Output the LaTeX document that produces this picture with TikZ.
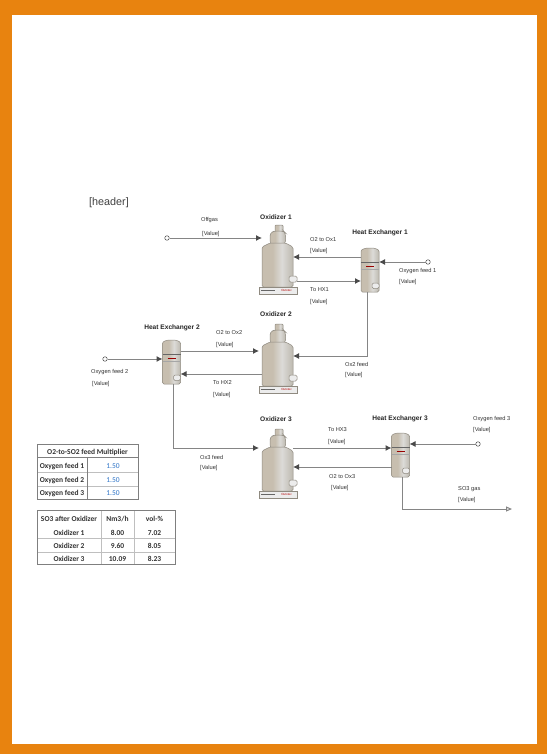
\documentclass[tikz,border=0pt]{standalone}
\usepackage{fontspec}
\setmainfont{Liberation Sans}
\newfontfamily\tablefont{Carlito}
\usetikzlibrary{arrows.meta, calc}
\definecolor{frameorange}{HTML}{E8830F}
\definecolor{vesselside}{HTML}{C7BEAF}
\definecolor{vessellight}{HTML}{DCDBD8}
\definecolor{vesselright}{HTML}{BDB9AF}
\definecolor{vesseledge}{HTML}{8F8A80}
\definecolor{linegray}{HTML}{858585}
\definecolor{tipgray}{HTML}{4A4A4A}
\definecolor{gridgray}{HTML}{BFBFBF}
\definecolor{tableedge}{HTML}{7F7F7F}
\definecolor{cellblue}{HTML}{2F75C8}
\pgfdeclarehorizontalshading{vesselshade}{100bp}{
  color(0bp)=(vesselside); color(25bp)=(vesselside); color(42bp)=(vesselside);
  color(57bp)=(vessellight); color(75bp)=(vesselright); color(100bp)=(vesselright)}
\tikzset{
  vessel/.style={draw=vesseledge, line width=0.5pt, shading=vesselshade},
  plate/.style={draw=vesseledge, line width=0.5pt, fill=gray!15},
  stream/.style={draw=linegray, line width=1pt, -{Latex[length=6pt,width=6pt,color=tipgray]}},
  feedend/.style={circle, draw=tipgray, fill=white, line width=0.5pt, inner sep=0pt, minimum size=4.5pt},
  lbl/.style={font=\fontsize{5.7}{6.5}\selectfont, text=black!80, anchor=west, inner sep=0pt},
  unit/.style={font=\bfseries\fontsize{6.6}{7.5}\selectfont, text=black!85, inner sep=0pt},
  cell/.style={font=\tablefont\bfseries\fontsize{7.5}{9}\selectfont, text=black!80, inner sep=0pt},
  oxidizer/.pic={
    % cap, neck, body
    \draw[vessel, rounded corners=1pt] (-2.5,-11) rectangle (5.5,-4);
    \draw[vessel, rounded corners=3pt] (-7.5,8) -- (-7.5,-3) -- (-3,-5) -- (6,-5) -- (8,-3) -- (8,8) -- cycle;
    \draw[vessel, rounded corners=1.5pt] (-15.5,51) -- (-15.5,11) -- (-7.5,7) -- (8,7) -- (15.5,11) -- (15.5,51) -- cycle;
    \draw[plate] (-18.5,51) rectangle (19.5,58);
    \fill[black!60] (-16.5,54) rectangle (-3,55);
    \node[font=\fontsize{3}{3.5}\selectfont, text=red!70!black, inner sep=0pt] at (9,54.5) {Outotec};
    \draw[plate, rounded corners=1.5pt] (11.5,40) rectangle (19.5,46);
    \coordinate (-neck) at (-15.5,2);
    \coordinate (-east) at (15.5,21);
    \coordinate (-west) at (-18.5,15);
    \coordinate (-nozzle) at (19.5,45);
  },
  exchanger/.pic={
    \draw[vessel, rounded corners=1.5pt] (-9,44) -- (-9,5) .. controls (-9,1) and (-4,0) .. (0,0)
      .. controls (4,0) and (9,1) .. (9,5) -- (9,44) -- cycle;
    \draw[black!60, line width=0.5pt] (-9,14.5) -- (9,14.5);
    \draw[red!60!black, line width=0.5pt] (-4,18) -- (4,18);
    \draw[black!35, line width=0.4pt] (-9,21) -- (9,21);
    \draw[plate, rounded corners=1.5pt] (2,35) rectangle (9,40.5);
    \coordinate (-south) at (-3,44);
    \coordinate (-drain) at (2,44);
    \coordinate (-west) at (-9,9);
    \coordinate (-east) at (9,14);
  }
}

\begin{document}
\begin{tikzpicture}[x=1pt, y=-1pt]

  \useasboundingbox (0,0) rectangle (547,754);
  \fill[frameorange] (0,0) rectangle (547,754);
  \fill[white] (12,15) rectangle (537,744);

  \node[font=\fontsize{10.8}{12}\selectfont, text=black!75, anchor=west, inner sep=0] (header) at (89,203) {[header]};

  % Oxidizers
  \pic (oxa) at (277.5,236) {oxidizer};
  \pic (oxb) at (277.5,335) {oxidizer};
  \pic (oxc) at (277.5,440) {oxidizer};
  \node[unit] (oxaname) at (276,217) {Oxidizer 1};
  \node[unit] (oxbname) at (276,314) {Oxidizer 2};
  \node[unit] (oxcname) at (276,419) {Oxidizer 3};

  % Heat exchangers
  \pic (hxa) at (370,248) {exchanger};
  \pic (hxb) at (171.5,340) {exchanger};
  \pic (hxc) at (400.5,433) {exchanger};
  \node[unit] (hxaname) at (380,233) {Heat Exchanger 1};
  \node[unit] (hxbname) at (172,328) {Heat Exchanger 2};
  \node[unit] (hxcname) at (400,419) {Heat Exchanger 3};

  % Free ends and stream levels
  \node[feedend] (offgas) at (167,238) {};
  \node[feedend] (feeda) at (428,262) {};
  \node[feedend] (feedb) at (105,359) {};
  \node[feedend] (feedc) at (478,444) {};
  \coordinate (gasout) at (512,509);
  \coordinate (levelb) at (0,351);
  \coordinate (levelc) at (0,374);
  \coordinate (leveld) at (0,448);
  \coordinate (levele) at (0,467);

  % Streams
  \draw[stream] (offgas) -- (offgas -| oxa-neck);
  \draw[stream] (hxa-west) -- (hxa-west -| oxa-east);
  \draw[stream] (oxa-nozzle) -- (oxa-nozzle -| hxa-west);
  \draw[stream] (feeda) -- (feeda -| hxa-east);
  \draw[stream] (hxa-south) |- (oxb-east);
  \draw[stream] (feedb) -- (feedb -| hxb-west);
  \draw[stream] (hxb-east |- levelb) -- (oxb-west |- levelb);
  \draw[stream] (oxb-neck |- levelc) -- (hxb-east |- levelc);
  \draw[stream] (hxb-drain) |- (oxc-west |- leveld);
  \draw[stream] (oxc-east |- leveld) -- (hxc-west |- leveld);
  \draw[stream] (hxc-west |- levele) -- (oxc-east |- levele);
  \draw[stream] (feedc) -- (feedc -| hxc-east);
  \draw[draw=linegray, line width=1pt, -{Triangle[open,length=6pt,width=5pt]}] (hxc-drain) |- (gasout);

  % Stream labels
  \foreach \x/\y/\txt/\vx/\vy in {
    201/220/Offgas/202/234,
    310/240/O2 to Ox1/310/251,
    310/290/To HX1/310/302,
    399/271/Oxygen feed 1/399/282,
    216/333/O2 to Ox2/216/345,
    91/372/Oxygen feed 2/92/384,
    213/383/To HX2/213/395,
    345/364/Ox2 feed/345/375,
    328/430/To HX3/328/442,
    473/419/Oxygen feed 3/473/430,
    329/477/O2 to Ox3/331/488,
    458/489/SO3 gas/458/500,
    200/457/Ox3 feed/200/468
  }{
    \node[lbl] at (\x,\y) {\txt};
    \node[lbl] at (\vx,\vy) {[Value]};
  }

  % Multiplier table
  \draw[gridgray, line width=0.5pt] (37,472) -- (138,472) (37,486) -- (138,486);
  \draw[tableedge, line width=0.6pt] (37,457) -- (138,457) (87,457) -- (87,499);
  \draw[tableedge, line width=0.8pt] (37,444) rectangle (138,499);
  \node[cell] at (87.5,452) {O2-to-SO2 feed Multiplier};
  \foreach \y/\lbl in {466/Oxygen feed 1, 480/Oxygen feed 2, 493/Oxygen feed 3}{
    \node[cell] at (62,\y) {\lbl};
    \node[cell, text=cellblue, font=\tablefont\fontsize{7.5}{9}\selectfont] at (113,\y) {1.50};
  }

  % SO3 table
  \draw[gridgray, line width=0.5pt] (37,538) -- (175,538) (37,552) -- (175,552);
  \draw[gridgray, line width=0.5pt] (101,510) -- (101,564) (134,510) -- (134,564);
  \draw[tableedge, line width=0.8pt] (37,510) rectangle (175,564);
  \foreach \y/\lbl/\flow/\vol in {
    519/SO3 after Oxidizer/{Nm3/h}/vol-\%,
    533/Oxidizer 1/8.00/7.02,
    546/Oxidizer 2/9.60/8.05,
    559/Oxidizer 3/10.09/8.23
  }{
    \node[cell] at (69,\y) {\lbl};
    \node[cell] at (117.5,\y) {\flow};
    \node[cell] at (154.5,\y) {\vol};
  }

\end{tikzpicture}
\end{document}
